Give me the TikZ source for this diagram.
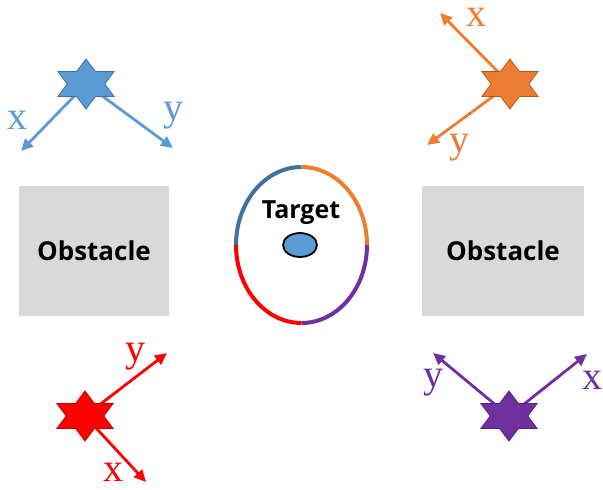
\documentclass[tikz,border=0pt]{standalone}
\usepackage{fontspec}
\setmainfont{Liberation Serif}
\newfontfamily\boxfont{Open Sans}
\usetikzlibrary{shapes.geometric,arrows.meta}
\definecolor{sblue}{HTML}{5B9BD5}
\definecolor{dblue}{HTML}{41719C}
\definecolor{sorange}{HTML}{ED7D31}
\definecolor{dorange}{HTML}{AE5A21}
\definecolor{sred}{HTML}{FF0000}
\definecolor{dred}{HTML}{C00000}
\definecolor{spurple}{HTML}{7030A0}
\definecolor{dpurple}{HTML}{4E2270}
\definecolor{obgray}{HTML}{D9D9D9}
\tikzset{
  agent/.style={star, star points=6, star point ratio=1.73, minimum size=50pt,
    inner sep=0pt, xscale=1.3, line width=0.8pt},
  axis/.style={line width=2.8pt, -{Triangle[length=12pt,width=11pt]}},
  axislabel/.style={font=\fontsize{40}{42}\selectfont, inner sep=0pt},
  obstacle/.style={fill=obgray, minimum width=150pt, minimum height=130pt,
    font=\boxfont\bfseries\fontsize{26}{28}\selectfont},
  ringarc/.style={line width=4pt}
}
\begin{document}
\begin{tikzpicture}[x=1pt,y=-1pt]
	\useasboundingbox (0,0) rectangle (603,490);
	% obstacles
	\node [obstacle] (obl) at (94,251) {Obstacle};
	\node [obstacle, minimum width=162pt] (obr) at (503,251) {Obstacle};
	% target ring
	\coordinate (rtop) at (301.5,167);
	\coordinate (rright) at (367,245);
	\coordinate (rbot) at (301.5,323);
	\coordinate (rleft) at (236,245);
	\draw [ringarc, dblue] (rtop) arc[start angle=90, end angle=180, x radius=65.5pt, y radius=78pt];
	\draw [ringarc, sorange] (rtop) arc[start angle=90, end angle=0, x radius=65.5pt, y radius=78pt];
	\draw [ringarc, spurple] (rright) arc[start angle=0, end angle=-90, x radius=65.5pt, y radius=78pt];
	\draw [ringarc, sred] (rleft) arc[start angle=180, end angle=270, x radius=65.5pt, y radius=78pt];
	\node [font=\boxfont\bfseries\fontsize{25}{27}\selectfont] (tlabel) at (301,213) {Target};
	\node [ellipse, draw=black, line width=1.8pt, fill=sblue, minimum width=34pt, minimum height=24pt, inner sep=0pt] (target) at (300,245) {};
	% blue agent
	\coordinate (bx) at (21,151);
	\coordinate (by) at (173,148);
	\draw [axis, sblue] (86,84) -- (bx);
	\draw [axis, sblue] (86,84) -- (by);
	\node [agent, fill=sblue, draw=dblue] (sb) at (86,84) {};
	\node [axislabel, text=sblue] (bxl) at (17,120) {x};
	\node [axislabel, text=sblue] (byl) at (173,116) {y};
	% orange agent
	\coordinate (ox) at (440,13);
	\coordinate (oy) at (427,145);
	\draw [axis, sorange] (510,84) -- (ox);
	\draw [axis, sorange] (510,84) -- (oy);
	\node [agent, fill=sorange, draw=dorange] (so) at (510,84) {};
	\node [axislabel, text=sorange] (oxl) at (476,17) {x};
	\node [axislabel, text=sorange] (oyl) at (459,148) {y};
	% red agent
	\coordinate (rx) at (146,482);
	\coordinate (ry) at (167,353);
	\draw [axis, sred] (85,416) -- (rx);
	\draw [axis, sred] (85,416) -- (ry);
	\node [agent, fill=sred, draw=dred] (sr) at (85,416) {};
	\node [axislabel, text=sred] (rxl) at (113,472) {x};
	\node [axislabel, text=sred] (ryl) at (135,357) {y};
	% purple agent
	\coordinate (px) at (587,354);
	\coordinate (py) at (433,353);
	\draw [axis, spurple] (509,416) -- (px);
	\draw [axis, spurple] (509,416) -- (py);
	\node [agent, fill=spurple, draw=dpurple] (sp) at (509,416) {};
	\node [axislabel, text=spurple] (pxl) at (592,380) {x};
	\node [axislabel, text=spurple] (pyl) at (433,383) {y};
\end{tikzpicture}
\end{document}
